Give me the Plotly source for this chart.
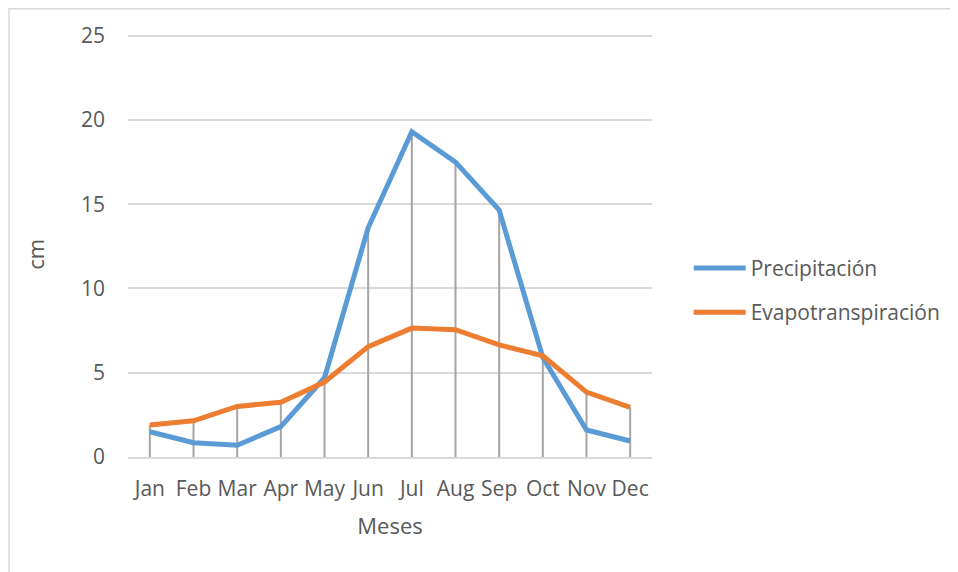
import plotly.graph_objects as go

months = ["Jan", "Feb", "Mar", "Apr", "May", "Jun", "Jul", "Aug", "Sep", "Oct", "Nov", "Dec"]
precipitacion = [1.5, 0.85, 0.7, 1.8, 4.7, 13.6, 19.3, 17.5, 14.65, 5.9, 1.6, 0.95]
evapotranspiracion = [1.9, 2.15, 3.0, 3.25, 4.45, 6.55, 7.65, 7.55, 6.65, 6.0, 3.85, 2.95]
y_ticks = [0, 5, 10, 15, 20, 25]

FONT = "Open Sans"
TXT = "#595959"

# drop lines from axis to the higher of the two series
drop_x, drop_y = [], []
for m, p, e in zip(months, precipitacion, evapotranspiracion):
    drop_x += [m, m, None]
    drop_y += [0, max(p, e), None]

fig = go.Figure()
fig.add_trace(go.Scatter(x=drop_x, y=drop_y, mode="lines",
                         line=dict(color="#A5A5A5", width=2),
                         showlegend=False, hoverinfo="skip"))
fig.add_trace(go.Scatter(x=months, y=precipitacion, mode="lines", name="Precipitación",
                         legendgroup="p",
                         line=dict(color="#5B9BD5", width=5)))
fig.add_trace(go.Scatter(x=months, y=evapotranspiracion, mode="lines", name="Evapotranspiración",
                         legendgroup="e",
                         line=dict(color="#ED7D31", width=5)))

# page shows the figure offset by the body margin (8px)
L, R, T, B = 120, 314, 26.3, 123
W, H = 958, 572
pw, ph = W - L - R, H - T - B
YMAX = 25.1

fig.update_layout(
    width=W, height=H,
    margin=dict(l=L, r=R, t=T, b=B),
    paper_bgcolor="white", plot_bgcolor="white",
    font=dict(family=FONT, size=21, color=TXT),
    legend=dict(x=1.07, y=0.394, xanchor="left", yanchor="middle",
                font=dict(size=21, color=TXT), itemwidth=52,
                tracegroupgap=14, bgcolor="rgba(0,0,0,0)"),
    xaxis=dict(type="category", categoryorder="array", categoryarray=months,
               range=[-0.5, 11.5], showgrid=False, showline=True,
               linecolor="#D9D9D9", linewidth=1.5, ticks="",
               tickfont=dict(size=21, color=TXT), ticklabelstandoff=12,
               title=dict(text="Meses", font=dict(size=22, color=TXT), standoff=18),
               fixedrange=True),
    yaxis=dict(range=[0, YMAX], tickvals=y_ticks, showgrid=True,
               gridcolor="#D9D9D9", gridwidth=1.5, zeroline=False,
               showline=False, ticks="", tickfont=dict(size=21, color=TXT),
               ticklabelstandoff=22, fixedrange=True),
    annotations=[dict(text="cm", xref="paper", yref="y", x=(27 - L) / pw, y=12.0,
                      xanchor="center", yanchor="middle", textangle=-90,
                      showarrow=False, font=dict(size=22, color=TXT))],
    shapes=[dict(type="rect", xref="paper", yref="paper",
                 x0=(1 - L) / pw, x1=(W + 20 - L) / pw,
                 y0=-(B + 20) / ph, y1=1 + (T - 1) / ph,
                 line=dict(color="#D9D9D9", width=1.5), fillcolor="rgba(0,0,0,0)",
                 layer="below")],
)

fig.write_html("out.html")
